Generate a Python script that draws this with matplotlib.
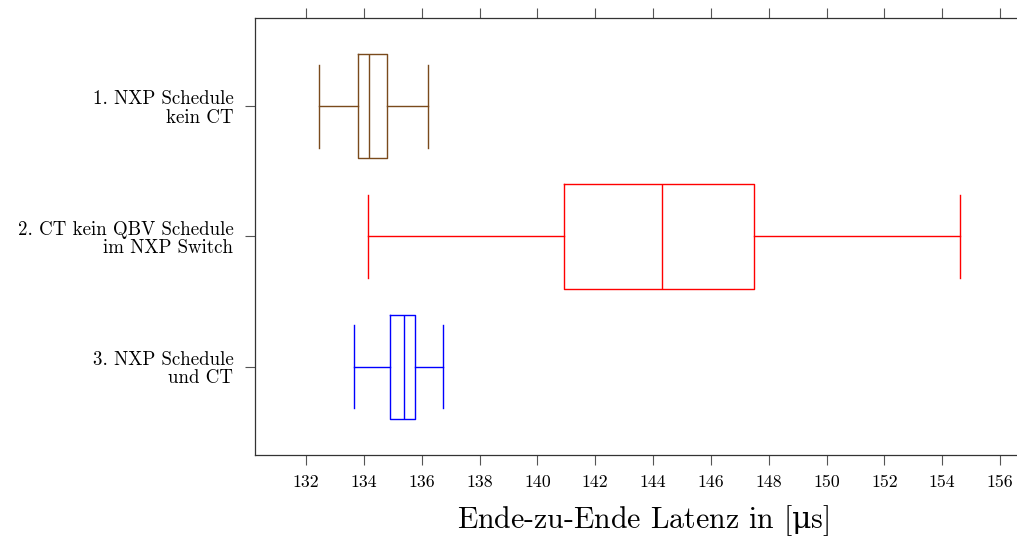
import matplotlib
matplotlib.use("Agg")
import matplotlib.pyplot as plt

categories = ["1. NXP Schedule\nkein CT",
              "2. CT kein QBV Schedule\nim NXP Switch",
              "3. NXP Schedule\nund CT"]
whisker_low = [132.45, 134.14, 133.66]
q1 = [133.80, 140.92, 134.90]
median = [134.18, 144.31, 135.39]
q3 = [134.80, 147.49, 135.77]
whisker_high = [136.22, 154.61, 136.74]
colors = ["#7a4a1c", "#ff0000", "#0000ff"]
xticks = list(range(132, 157, 2))

plt.rcParams['font.family'] = ['cmr10', 'DejaVu Serif']
plt.rcParams['axes.unicode_minus'] = False
plt.rcParams['mathtext.fontset'] = 'dejavuserif'

W, H = 1017, 538
fig = plt.figure(figsize=(W / 100, H / 100), dpi=100)
left, right, top, bottom = 255, 1029, 18, 455
ax = fig.add_axes([left / W, 1 - bottom / H, (right - left) / W, (bottom - top) / H])

stats = []
for i in range(len(categories)):
    stats.append(dict(whislo=whisker_low[i], q1=q1[i], med=median[i],
                      q3=q3[i], whishi=whisker_high[i], fliers=[]))

positions = [1, 2, 3]
for i, s in enumerate(stats):
    c = colors[i]
    ax.bxp([s], positions=[positions[i]], vert=False, widths=0.8,
           capwidths=0.64, showfliers=False, patch_artist=False,
           boxprops=dict(color=c, linewidth=1.0),
           medianprops=dict(color=c, linewidth=1.0),
           whiskerprops=dict(color=c, linewidth=1.0),
           capprops=dict(color=c, linewidth=1.0),
           manage_ticks=False)

x_per_px = 24 / 694.0
ax.set_xlim(132 - (306 - left) * x_per_px, 132 + (right - 306) * x_per_px)
ax.set_ylim(3.68, 0.32)
ax.set_yticks(positions)
ax.set_yticklabels(categories, fontsize=13.6, linespacing=1.05, ha='right')
ax.set_xticks(xticks)
ax.set_xticklabels([str(t) for t in xticks], fontsize=12.8)
ax.tick_params(axis='x', which='both', direction='out', length=7.5, width=0.8,
               color='#555555', top=True, bottom=True, pad=7)
ax.tick_params(axis='y', direction='out', length=7.5, width=0.8, color='#555555', pad=8)
for sp in ax.spines.values():
    sp.set_linewidth(0.9)
    sp.set_color('#333333')

fig.text(643 / W, 1 - 528 / H, r"Ende-zu-Ende Latenz in [$\mathrm{\mu}$s]", fontsize=21.5,
         ha='center', va='baseline')

fig.savefig("out.png", dpi=100)
